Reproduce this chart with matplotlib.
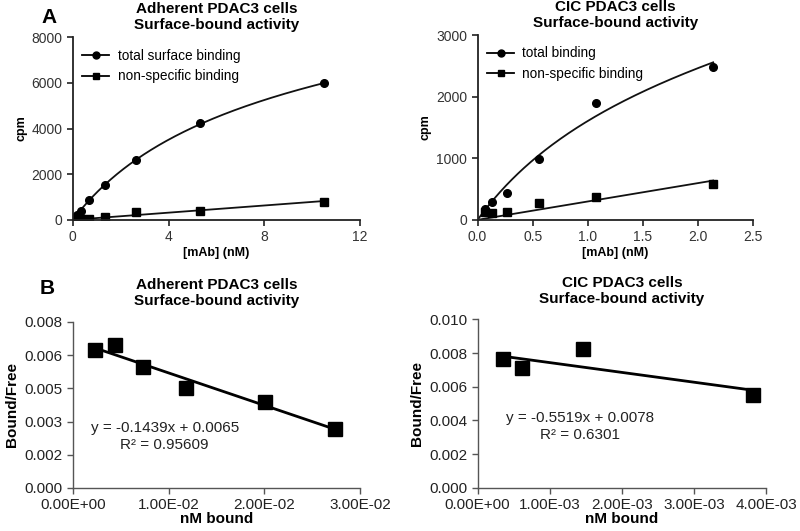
import matplotlib
matplotlib.use("Agg")
import matplotlib.pyplot as plt
import numpy as np
from matplotlib.ticker import FormatStrFormatter, FuncFormatter

plt.rcParams['font.family'] = ['Liberation Sans', 'DejaVu Sans']

# panel A, adherent cells (cpm vs nM)
adh_conc = [0.083, 0.166, 0.33, 0.66, 1.33, 2.65, 5.3, 10.5]
adh_total = [130, 230, 380, 850, 1540, 2600, 4220, 5980]
adh_ns = [15, 25, 30, 45, 140, 340, 390, 800]

# panel A, CIC cells
cic_conc = [0.067, 0.134, 0.268, 0.555, 1.08, 2.14]
cic_total = [170, 285, 440, 995, 1890, 2475]
cic_ns = [120, 105, 130, 270, 365, 575]

# panel B, Scatchard
adh_bound = [0.00227, 0.00436, 0.00733, 0.01186, 0.02006, 0.02738]
adh_bf = [0.00663, 0.00691, 0.00583, 0.00484, 0.00414, 0.00286]
cic_bound = [0.000355, 0.000609, 0.001453, 0.003815]
cic_bf = [0.00762, 0.00709, 0.00822, 0.00550]

adh_eq = 'y = -0.1439x + 0.0065\nR² = 0.95609'
cic_eq = 'y = -0.5519x + 0.0078\nR² = 0.6301'


def fit_binding(x, tot, ns):
    x = np.asarray(x, float)
    tot = np.asarray(tot, float)
    ns = np.asarray(ns, float)
    slope = np.sum(x * ns) / np.sum(x * x)
    spec = tot - slope * x
    best = None
    for kd in np.linspace(0.05, 50, 4000):
        h = x / (kd + x)
        bmax = np.sum(h * spec) / np.sum(h * h)
        err = np.sum((bmax * h - spec) ** 2)
        if best is None or err < best[0]:
            best = (err, kd, bmax)
    return slope, best[1], best[2]


def panel_a(ax, x, tot, ns, xmax, ymax, xt, yt, xfmt, title, lab_tot):
    slope, kd, bmax = fit_binding(x, tot, ns)
    xx = np.linspace(0, max(x), 200)
    ax.plot(xx, bmax * xx / (kd + xx) + slope * xx, color='#111111', lw=1.3)
    ax.plot(xx, slope * xx, color='#111111', lw=1.3)
    ax.plot(x, tot, 'o', color='black', ms=5.5)
    ax.plot(x, ns, 's', color='black', ms=5.5)
    # legend proxies
    ax.plot([], [], '-o', color='black', ms=5, lw=1.3, label=lab_tot)
    ax.plot([], [], '-s', color='black', ms=5, lw=1.3, label='non-specific binding')
    ax.set_xlim(0, xmax)
    ax.set_ylim(0, ymax)
    ax.set_xticks(xt)
    ax.set_yticks(yt)
    ax.xaxis.set_major_formatter(FormatStrFormatter(xfmt))
    for s in ['top', 'right']:
        ax.spines[s].set_visible(False)
    for s in ['left', 'bottom']:
        ax.spines[s].set_linewidth(1.3)
        ax.spines[s].set_color('#222222')
    ax.tick_params(direction='out', length=4, width=1.2, labelsize=10,
                   labelcolor='#333333', color='#222222')
    ax.set_ylabel('cpm', fontsize=9, fontweight='bold', labelpad=3)
    ax.set_xlabel('[mAb] (nM)', fontsize=9, fontweight='bold', labelpad=2)
    ax.set_title(title, fontsize=11, fontweight='bold', pad=6)
    ax.legend(loc='upper left', bbox_to_anchor=(-0.01, 1.005), frameon=False,
              fontsize=9.8, handlelength=2.0, handletextpad=0.6, labelspacing=0.5)


def panel_b(ax, x, y, xmax, ymax, yt, yfmt, title, eq, eqpos):
    k, b = np.polyfit(x, y, 1)
    xx = np.array([min(x), max(x)])
    ax.plot(xx, k * xx + b, color='black', lw=2)
    ax.plot(x, y, 's', color='black', ms=10.5)
    ax.set_xlim(0, xmax)
    ax.set_ylim(0, ymax)
    ax.set_xticks(np.linspace(0, xmax, 4 if xmax > 0.01 else 5))
    ax.set_yticks(yt)
    ax.yaxis.set_major_formatter(FormatStrFormatter(yfmt))
    ax.xaxis.set_major_formatter(FuncFormatter(lambda v, p: '%.2E' % v))
    for s in ['top', 'right']:
        ax.spines[s].set_visible(False)
    for s in ['left', 'bottom']:
        ax.spines[s].set_linewidth(1.0)
        ax.spines[s].set_color('#555555')
    ax.tick_params(direction='out', length=4, width=1.0, labelsize=11,
                   labelcolor='#222222', color='#555555')
    ax.set_ylabel('Bound/Free', fontsize=11, fontweight='bold', labelpad=4)
    ax.set_xlabel('nM bound', fontsize=11, fontweight='bold', labelpad=0)
    ax.set_title(title, fontsize=11, fontweight='bold', pad=12)
    ax.text(eqpos[0], eqpos[1], eq, transform=ax.transAxes, ha='center',
            va='center', multialignment='center', fontsize=11, color='#222222')


fig = plt.figure(figsize=(8.0, 5.31), dpi=100)

ax1 = fig.add_axes([0.091, 0.586, 0.359, 0.344])
panel_a(ax1, adh_conc, adh_total, adh_ns, 12, 8000, [0, 4, 8, 12],
        [0, 2000, 4000, 6000, 8000], '%d',
        'Adherent PDAC3 cells\nSurface-bound activity', 'total surface binding')

ax2 = fig.add_axes([0.597, 0.586, 0.344, 0.348])
panel_a(ax2, cic_conc, cic_total, cic_ns, 2.5, 3000, [0, 0.5, 1.0, 1.5, 2.0, 2.5],
        [0, 1000, 2000, 3000], '%.1f',
        'CIC PDAC3 cells\nSurface-bound activity', 'total binding')

ax3 = fig.add_axes([0.091, 0.081, 0.359, 0.3126])
panel_b(ax3, adh_bound, adh_bf, 0.03, 0.008, np.linspace(0, 0.008, 6), '%.3f',
        'Adherent PDAC3 cells\nSurface-bound activity', adh_eq, (0.32, 0.31))

ax4 = fig.add_axes([0.597, 0.0815, 0.361, 0.317])
panel_b(ax4, cic_bound, cic_bf, 0.004, 0.010, np.linspace(0, 0.010, 6), '%.3f',
        'CIC PDAC3 cells\nSurface-bound activity', cic_eq, (0.356, 0.364))

fig.text(0.052, 0.985, 'A', fontsize=15, fontweight='bold', va='top')
fig.text(0.050, 0.475, 'B', fontsize=15, fontweight='bold', va='top')

fig.savefig('out.png', dpi=100)
